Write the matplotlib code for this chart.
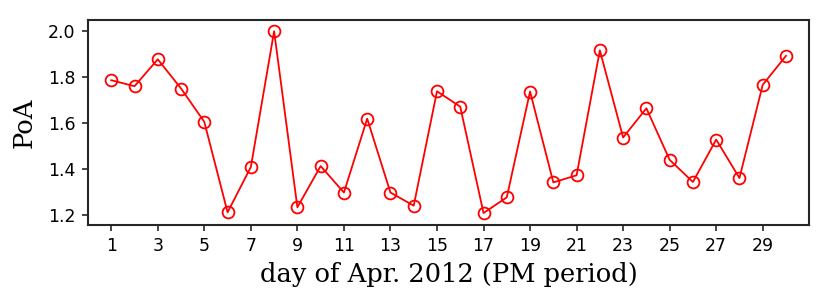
import numpy as np
import matplotlib.pyplot as plt

# PoA per day, April 2012 (PM period)
days = np.arange(1, 31)
poa = [1.787, 1.761, 1.878, 1.751, 1.606, 1.213, 1.410, 2.000, 1.235, 1.414,
       1.299, 1.620, 1.299, 1.242, 1.739, 1.672, 1.210, 1.278, 1.738, 1.343,
       1.374, 1.917, 1.538, 1.665, 1.441, 1.345, 1.529, 1.362, 1.767, 1.893]
xticks = np.arange(1, 31, 2)

fig = plt.figure(figsize=(8.3, 3.02), dpi=100)
ax = fig.add_axes([0.106, 0.255, 0.869, 0.679])
ax.plot(days, poa, color='red', lw=1.3, marker='o', ms=8.5,
        mfc='none', mec='red', mew=1.3)
ax.set_xlim(0, 31)
ax.set_ylim(1.158, 2.049)
ax.set_xticks(xticks)
for s in ax.spines.values():
    s.set_linewidth(1.5)
    s.set_color('#262626')
ax.tick_params(labelsize=12.5, length=4, width=1.2, color='#262626', pad=5)
ax.set_xlabel('day of Apr. 2012 (PM period)', family='DejaVu Serif', fontsize=18.5, labelpad=5)
ax.set_ylabel('PoA', family='DejaVu Serif', fontsize=18.5, labelpad=8)
fig.savefig('out.png')
